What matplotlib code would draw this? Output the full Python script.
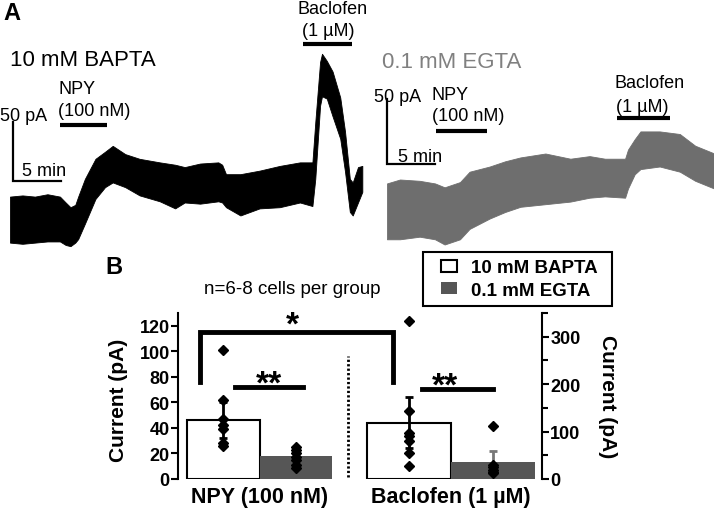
import matplotlib
matplotlib.use("Agg")
import matplotlib.pyplot as plt
from matplotlib.patches import Patch, Rectangle

plt.rcParams["font.family"] = ["Liberation Sans", "DejaVu Sans"]


# Panel A: envelope of the noisy whole-cell current traces (time in min, current in pA)
bapta_t = [0, 1.3, 2.6, 3.9, 5.2, 5.8, 6.3, 6.8, 7.1, 7.8, 8.9, 9.9, 10.7, 12.0,
           13.5, 15.6, 17.2, 18.2, 19.8, 21.7, 22.1, 22.5, 24.0, 26.0, 28.1,
           30.2, 31.5, 31.8, 32.3, 32.5, 33.0, 33.6, 34.4, 34.9, 35.4, 35.7,
           36.25, 36.7]
bapta_top = [19, 20, 19, 21, 19, 14, 10, 12, 19, 34, 51, 57, 62, 55, 51, 48, 46,
             44, 47, 48, 46, 38, 38, 41, 45, 48, 48, 82, 133, 140, 134, 125, 103,
             74, 34, 31, 44, 45]
bapta_bottom = [-20, -21, -20, -19, -19, -22, -23, -20, -17, -4, 17, 27, 31, 27,
                20, 15, 9, 14, 13, 15, 14, 10, 3, 9, 10, 14, 11, 34, 96, 104, 102,
                87, 68, 40, 6, 3, 14, 23]

egta_t = [0, 1.35, 3.4, 5.0, 6.0, 7.6, 8.6, 10.7, 12.3, 13.9, 16.5, 19.1, 21.1,
          22.7, 24.8, 25.1, 25.8, 26.4, 28.4, 30.5, 32.1, 34.1]
egta_top = [12, 15, 14, 12, 9, 13, 21, 25, 29, 32, 35, 31, 33, 31, 31, 38, 46, 52,
            52, 50, 41, 35]
egta_bottom = [-31, -31, -29, -31, -35, -31, -23, -15, -10, -6, -4, -2, 1, 2, 1,
               8, 19, 23, 25, 21, 14, 8]

# drug application windows (min)
bapta_npy = (5.2, 10.1)
bapta_baclofen = (30.5, 35.6)
egta_npy = (5.1, 10.4)
egta_baclofen = (24.0, 29.5)

# Panel B
groups = ["NPY (100 nM)", "Baclofen (1 µM)"]
conditions = ["10 mM BAPTA", "0.1 mM EGTA"]
npy_means = [46, 18]
npy_err = [14, 3]
bac_means = [119, 36]
bac_err = [53, 23]
npy_bapta_cells = [101, 62, 47, 42, 39, 28, 26]
npy_egta_cells = [25, 23, 20, 17, 15, 11, 9]
bac_bapta_cells = [334, 143, 98, 91, 80, 55, 28]
bac_egta_cells = [111, 29, 25, 20, 15, 12]

GREY_BAR = "#565656"
GREY_TRACE = "#6e6e6e"
GREY_TEXT = "#808080"

W, H = 714, 510


def fx(x):
    return x / W


def fy(y):
    return 1 - y / H


fig = plt.figure(figsize=(W / 100, H / 100), dpi=100)

# ---------- A: 10 mM BAPTA ----------
ax1 = fig.add_axes([0, fy(250), 370 / W, 250 / H])
ax1.set_xlim(-1.042, 37.5)
ax1.set_ylim(-25.4, 186.4)
ax1.axis("off")
ax1.fill_between(bapta_t, bapta_bottom, bapta_top, color="black", lw=0.6)
ax1.plot([0.31, 0.31, 5.31], [82.2, 32.2, 32.2], color="black", lw=1.6,
         solid_joinstyle="miter")
ax1.hlines(79.7, *bapta_npy, color="black", lw=3)
ax1.hlines(148.3, *bapta_baclofen, color="black", lw=3)

fig.text(fx(3), fy(13), "A", fontsize=17, fontweight="bold", va="center")
fig.text(fx(10), fy(60), "10 mM BAPTA", fontsize=16, va="center")
fig.text(fx(0), fy(117), "50 pA", fontsize=13, va="center")
fig.text(fx(22), fy(172), "5 min", fontsize=13, va="center")
fig.text(fx(58), fy(90), "NPY", fontsize=13, va="center")
fig.text(fx(58), fy(112), "(100 nM)", fontsize=13, va="center")
fig.text(fx(333), fy(10), "Baclofen", fontsize=13, va="center", ha="center")
fig.text(fx(328), fy(32), "(1 µM)", fontsize=13, va="center", ha="center")

# ---------- A: 0.1 mM EGTA ----------
ax2 = fig.add_axes([375 / W, fy(250), 339 / W, 250 / H])
ax2.set_xlim(-1.25, 34.06)
ax2.set_ylim(-38.46, 153.85)
ax2.axis("off")
ax2.fill_between(egta_t, egta_bottom, egta_top, color=GREY_TRACE, lw=0.6)
ax2.plot([0, 0, 5], [76.9, 26.9, 26.9], color="black", lw=1.6,
         solid_joinstyle="miter")
ax2.hlines(52.3, *egta_npy, color="black", lw=3)
ax2.hlines(62.3, *egta_baclofen, color="black", lw=3)

fig.text(fx(382), fy(63), "0.1 mM EGTA", fontsize=16, va="center", color=GREY_TEXT)
fig.text(fx(374), fy(97), "50 pA", fontsize=13, va="center")
fig.text(fx(398), fy(157), "5 min", fontsize=13, va="center")
fig.text(fx(432), fy(95), "NPY", fontsize=13, va="center")
fig.text(fx(432), fy(117), "(100 nM)", fontsize=13, va="center")
fig.text(fx(615), fy(83), "Baclofen", fontsize=13, va="center")
fig.text(fx(616), fy(107), "(1 µM)", fontsize=13, va="center")

# ---------- B: bar chart ----------
axb = fig.add_axes([178 / W, fy(480), 364 / W, 166 / H])
axr = axb.twinx()
axb.set_xlim(-0.4256, 1.475)
axb.set_ylim(0, 130)
axr.set_ylim(0, 350)

w0, w1 = 0.38, 0.44
axb.bar(-w0 / 2, npy_means[0], width=w0, facecolor="white", edgecolor="black", lw=1.5)
axb.bar(w0 / 2, npy_means[1], width=w0, color=GREY_BAR)
axr.bar(1 - w1 / 2, bac_means[0], width=w1, facecolor="white", edgecolor="black", lw=1.5)
axr.bar(1 + w1 / 2, bac_means[1], width=w1, color=GREY_BAR)

axb.errorbar(-w0 / 2, npy_means[0], yerr=npy_err[0], fmt="none", ecolor="black",
             elinewidth=2, capsize=3, capthick=2)
axb.errorbar(w0 / 2, npy_means[1], yerr=npy_err[1], fmt="none", ecolor="#777777",
             elinewidth=2, capsize=3, capthick=2)
axr.errorbar(1 - w1 / 2, bac_means[0], yerr=bac_err[0], fmt="none", ecolor="black",
             elinewidth=2, capsize=3, capthick=2)
axr.errorbar(1 + w1 / 2, bac_means[1], yerr=bac_err[1], fmt="none", ecolor="#777777",
             elinewidth=2, capsize=3, capthick=2)

axb.plot([-w0 / 2] * len(npy_bapta_cells), npy_bapta_cells, "D", color="black", ms=5)
axb.plot([w0 / 2] * len(npy_egta_cells), npy_egta_cells, "D", color="black", ms=5)
axr.plot([1 - w1 / 2] * len(bac_bapta_cells), bac_bapta_cells, "D", color="black",
         ms=5, clip_on=False)
axr.plot([1 + w1 / 2] * len(bac_egta_cells), bac_egta_cells, "D", color="black", ms=5)

# significance marks
axb.plot([-0.31, -0.31, 0.697, 0.697], [76, 115, 115, 76], color="black", lw=3.5,
         solid_joinstyle="miter", clip_on=False)
axb.text(0.17, 120.5, "*", ha="center", va="center", fontsize=24, fontweight="bold")
axb.plot([-0.128, 0.227], [72, 72], color="black", lw=3.5)
axb.text(0.05, 74.5, "**", ha="center", va="center", fontsize=24, fontweight="bold")
axb.plot([0.849, 1.219], [70.6, 70.6], color="black", lw=3.5)
axb.text(0.97, 73, "**", ha="center", va="center", fontsize=24, fontweight="bold")

axb.plot([0.462, 0.462], [1.6, 96.5], color="black", lw=2,
         ls=(0, (0.8, 0.8)), dash_capstyle="butt")

for s in ["top", "right", "bottom"]:
    axb.spines[s].set_visible(False)
for s in ["top", "left", "bottom"]:
    axr.spines[s].set_visible(False)
axb.spines["left"].set_linewidth(1.5)
axr.spines["right"].set_linewidth(1.5)

axb.set_yticks(range(0, 121, 20), [str(v) for v in range(0, 121, 20)],
               fontweight="bold", fontsize=13)
axr.set_yticks(range(0, 301, 100), [str(v) for v in range(0, 301, 100)],
               fontweight="bold", fontsize=13)
axr.set_yticks([50, 150, 250, 350], minor=True)
axb.tick_params(axis="y", width=1.5, length=5, pad=1)
axr.tick_params(axis="y", which="both", width=1.5, length=5, pad=1)
axr.tick_params(axis="y", which="minor", length=4)
axb.set_xticks([0, 1], groups, fontweight="bold", fontsize=15.5)
axb.tick_params(axis="x", length=0, pad=5)

fig.text(fx(118), fy(400), "Current (pA)", rotation=90, ha="center", va="center",
         fontsize=15, fontweight="bold")
fig.text(fx(607), fy(397), "Current (pA)", rotation=270, ha="center", va="center",
         fontsize=15, fontweight="bold")
fig.text(fx(105), fy(268), "B", fontsize=17, fontweight="bold", va="center")
fig.text(fx(292), fy(289), "n=6-8 cells per group", fontsize=13.5, ha="center",
         va="center")

# legend: box drawn separately so padding matches the original
fig.patches.append(Rectangle((fx(423), fy(307)), 189 / W, 54 / H,
                             transform=fig.transFigure, facecolor="white",
                             edgecolor="black", lw=1.5))
fig.legend(
    handles=[Patch(facecolor="white", edgecolor="black", lw=1.5),
             Patch(facecolor=GREY_BAR)],
    labels=conditions,
    loc="center left",
    bbox_to_anchor=(fx(441), fy(280)),
    frameon=False,
    prop={"weight": "bold", "size": 13.5},
    handlelength=0.85,
    handleheight=0.6,
    borderpad=0,
    labelspacing=0.3,
    handletextpad=0.75,
    borderaxespad=0,
)

fig.savefig("out.png", dpi=100)
